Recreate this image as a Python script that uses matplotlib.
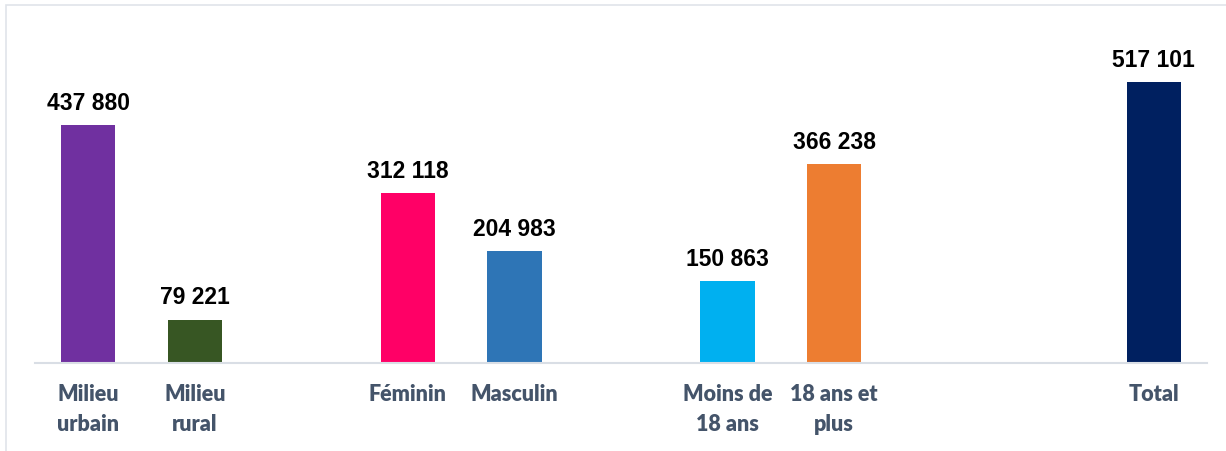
import matplotlib.pyplot as plt
from matplotlib.patches import Rectangle

categories = ["Milieu\nurbain", "Milieu\nrural", "Féminin", "Masculin",
              "Moins de\n18 ans", "18 ans et\nplus", "Total"]
values = [437880, 79221, 312118, 204983, 150863, 366238, 517101]
slots = [0, 1, 3, 4, 6, 7, 10]
colors = ["#7030A0", "#375623", "#FF0066", "#2E75B6",
          "#00B0F0", "#ED7D31", "#002060"]

fig = plt.figure(figsize=(12.26, 4.52), dpi=100)
ax = fig.add_axes([0.0285, 0.1955, 0.956, 0.721])

bars = ax.bar(slots, values, width=0.51, color=colors)

for x, v in zip(slots, values):
    label = f"{v:,}".replace(",", " ")
    ax.annotate(label, (x, v), xytext=(0, 8), textcoords="offset points",
                ha="center", va="bottom", fontsize=16.5, fontweight="bold",
                family="Liberation Sans", color="black")

ax.set_xlim(-0.5, 10.5)
ax.set_ylim(0, 600000)
ax.set_xticks(slots)
ax.set_xticklabels(categories, fontsize=15.5, fontweight="heavy",
                   family="Lato", color="#44546A", linespacing=1.5)
ax.tick_params(axis="x", length=0, pad=15)
ax.set_yticks([])

for side in ["top", "right", "left"]:
    ax.spines[side].set_visible(False)
ax.spines["bottom"].set_color("#D9DEE5")
ax.spines["bottom"].set_linewidth(1.5)

# light frame around the chart area
fig.patches.append(Rectangle((6 / 1226, -0.01), 1.1, (452 - 6) / 452 + 0.01,
                             transform=fig.transFigure, fill=False,
                             edgecolor="#E0E4EA", linewidth=1.2))

fig.savefig("out.png", dpi=100)
